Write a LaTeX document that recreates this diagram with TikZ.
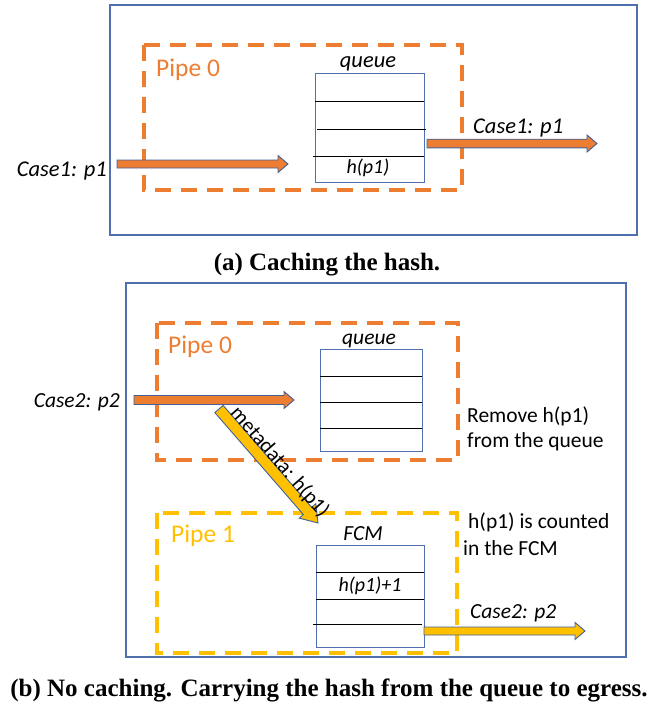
\documentclass[tikz,border=0pt]{standalone}
\usepackage{fontspec}
\setsansfont{Carlito}
\setmainfont{Liberation Serif}
\usetikzlibrary{calc}
\definecolor{orng}{HTML}{ED7D31}
\definecolor{ylw}{HTML}{FFC000}
\definecolor{bdr}{HTML}{4F6FAF}
\definecolor{arrowedge}{HTML}{41609A}
\tikzset{
 frame/.style={draw=bdr, line width=1.3pt},
 pipebox/.style={dash pattern=on 16pt off 10pt, line width=3.5pt},
 qbox/.style={draw=bdr, line width=1.2pt},
 qline/.style={draw=black, line width=0.9pt},
 lbla/.style={font=\sffamily\itshape\fontsize{22.5}{26}\selectfont, inner sep=0pt},
 lblb/.style={font=\sffamily\itshape\fontsize{21.5}{25}\selectfont, inner sep=0pt},
 note/.style={font=\sffamily\fontsize{21.5}{25}\selectfont, inner sep=0pt, anchor=base west},
 slopelbl/.style={font=\sffamily\fontsize{21}{24}\selectfont, inner sep=0pt},
 pipelbl/.style={font=\sffamily\fontsize{25.5}{30}\selectfont, inner sep=0pt, anchor=base west},
 cell/.style={font=\sffamily\itshape\fontsize{20}{24}\selectfont, inner sep=0pt, anchor=base},
 captext/.style={font=\bfseries\fontsize{25}{30}\selectfont, inner sep=0pt},
 fat/.style={draw=arrowedge, line width=0.9pt, line join=miter},
}
% #1 name, #2 fill, #3 start, #4 end, #5 half shaft, #6 half head, #7 head length
\newcommand{\fatarrow}[7]{%
 \coordinate (#1-hb) at ($(#4)!#7!(#3)$);
 \draw[fat, fill=#2] ($(#3)!#5!90:(#4)$) -- ($(#1-hb)!#5!-90:(#3)$) -- ($(#1-hb)!#6!-90:(#3)$) -- (#4) -- ($(#1-hb)!#6!90:(#3)$) -- ($(#1-hb)!#5!90:(#3)$) -- ($(#3)!#5!-90:(#4)$) -- cycle;
}
\begin{document}
\begin{tikzpicture}[x=1pt,y=-1pt]
\useasboundingbox (0,0) rectangle (652,704);
% ---------- panel (a)
\draw[frame] (110,5) rectangle (637,235);
\draw[pipebox, draw=orng] (144,45) rectangle (462,190);
\node[pipelbl, text=orng] (p0a) at (156,76) {Pipe 0};
\node[lbla, anchor=base] (qla) at (368,67) {queue};
\node[qbox, anchor=north west, minimum width=109pt, minimum height=109pt, inner sep=0pt] (qa) at (315,73) {};
\draw[qline] (315,101) -- (424,101);
\draw[qline] (317,129) -- (426,129);
\draw[qline] (313,156) -- (424,156);
\node[cell] (hpa) at (368,173) {h(p1)};
\node[lbla, anchor=base east] (inla) at (107,176) {Case1: p1};
\coordinate (ina-s) at (117,164);
\coordinate (ina-e) at (288,164);
\fatarrow{ina}{orng}{ina-s}{ina-e}{4pt}{8.5pt}{10pt}
\coordinate (outa-s) at (427,143.5);
\coordinate (outa-e) at (597,143.5);
\fatarrow{outa}{orng}{outa-s}{outa-e}{4.3pt}{8.5pt}{10pt}
\node[lbla, anchor=base west] (outla) at (473,133) {Case1: p1};
\node[captext] (capa) at (327,265) {(a) Caching the hash.};
% ---------- panel (b)
\draw[frame] (126,283) rectangle (626,657);
\draw[pipebox, draw=orng] (157,323) rectangle (458,460);
\node[pipelbl, text=orng] (p0b) at (168,353) {Pipe 0};
\node[lblb, anchor=base] (qlb) at (369,344) {queue};
\node[qbox, anchor=north west, minimum width=102pt, minimum height=102pt, inner sep=0pt] (qb) at (320,349) {};
\draw[qline] (320,376) -- (422,376);
\draw[qline] (320,402) -- (422,402);
\draw[qline] (320,428) -- (422,428);
\node[lblb, anchor=base east] (inlb) at (120,407) {Case2: p2};
\coordinate (inb-s) at (134,400);
\coordinate (inb-e) at (294,400);
\fatarrow{inb}{orng}{inb-s}{inb-e}{4.5pt}{8.5pt}{10pt}
\node[note] (rem1) at (467,422) {Remove h(p1)};
\node[note] (rem2) at (467,447) {from the queue};
\draw[pipebox, draw=ylw] (157,513) rectangle (457,653);
\node[pipelbl, text=ylw] (p1b) at (171,542) {Pipe 1};
\node[lblb, anchor=base] (fcml) at (363,540) {FCM};
\node[qbox, anchor=north west, minimum width=108pt, minimum height=102pt, inner sep=0pt] (fcm) at (316,545) {};
\draw[qline] (316,572) -- (424,572);
\draw[qline] (316,599) -- (424,599);
\draw[qline] (313,624) -- (422,624);
\node[cell] (hp1) at (370,591) {h(p1)+1};
\coordinate (md-s) at (219,409);
\coordinate (md-e) at (318,523);
\fatarrow{md}{ylw}{md-s}{md-e}{5.5pt}{11pt}{16pt}
\path (md-s) -- (md-e) node[slopelbl, pos=0.53, sloped, above=1.5pt] (mdl) {metadata: h(p1)};
\coordinate (outb-s) at (424,631);
\coordinate (outb-e) at (585,631);
\fatarrow{outb}{ylw}{outb-s}{outb-e}{4pt}{8.5pt}{10pt}
\node[lblb, anchor=base west] (outlb) at (470,618) {Case2: p2};
\node[note] (cnt1) at (468,528) {h(p1) is counted};
\node[note] (cnt2) at (463,555) {in the FCM};
\node[captext] (capb) at (329,690) {(b) No caching. Carrying the hash from the queue to egress.};
\end{tikzpicture}
\end{document}
